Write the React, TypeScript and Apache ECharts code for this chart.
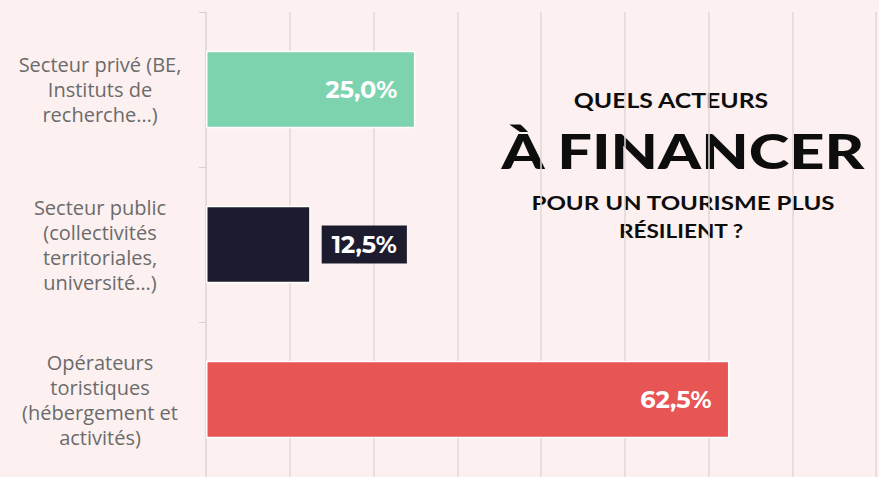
import React, { useEffect, useRef } from "react";
import * as echarts from "echarts";

const categories = [
  "Secteur privé (BE,\nInstituts de\nrecherche…)",
  "Secteur public\n(collectivités\nterritoriales,\nuniversité…)",
  "Opérateurs\ntoristiques\n(hébergement et\nactivités)",
];
const values = [25.0, 12.5, 62.5];
const barColors = ["#7dd3ae", "#1c1c2e", "#e85555"];
const labelInside = [true, false, true];
const titleLines = ["QUELS ACTEURS", "À FINANCER", "POUR UN TOURISME PLUS", "RÉSILIENT ?"];

const fmt = (v: number) => v.toFixed(1).replace(".", ",") + "%";

export default function App() {
  const ref = useRef<HTMLDivElement>(null);
  useEffect(() => {
    if (!ref.current) return;
    const chart = echarts.init(ref.current, undefined, { renderer: "svg" });
    const data = values.map((v, i) => ({
      value: v,
      itemStyle: { color: barColors[i] },
      label: labelInside[i]
        ? {
            position: "insideRight",
            distance: 18,
            color: "#ffffff",
            backgroundColor: "transparent",
            padding: 0,
          }
        : {
            position: "right",
            distance: 11,
            color: "#ffffff",
            backgroundColor: "#1c1c2e",
            padding: [8, 10, 6, 10],
          },
    }));
    const titleText = (
      text: string,
      x: number,
      y: number,
      font: string,
      sx: number
    ) => ({
      type: "text",
      x,
      y,
      scaleX: sx,
      style: {
        text,
        fill: "#0d0d0d",
        font,
        textAlign: "center",
        textVerticalAlign: "middle",
      },
    });
    chart.setOption({
      animation: false,
      backgroundColor: "#fcf0f0",
      grid: { left: 206, right: 3, top: 12, bottom: -5, containLabel: false },
      xAxis: {
        type: "value",
        min: 0,
        max: 80,
        interval: 10,
        axisLabel: { show: false },
        axisLine: { show: false },
        axisTick: { show: false },
        splitLine: { show: true, lineStyle: { color: "#e2d9d9", width: 1.5 } },
      },
      yAxis: {
        type: "category",
        data: categories,
        inverse: true,
        axisLine: { show: true, lineStyle: { color: "#e2d9d9", width: 1.5 } },
        axisTick: { show: true, length: 7, lineStyle: { color: "#d8cfcf" } },
        axisLabel: {
          align: "center",
          margin: 106,
          color: "#6b6b6b",
          fontSize: 20,
          lineHeight: 25,
          fontFamily: "'Open Sans', sans-serif",
        },
      },
      series: [
        {
          type: "bar",
          data,
          barWidth: "50%",
          itemStyle: { borderColor: "#ffffff", borderWidth: 1.5 },
          label: {
            show: true,
            formatter: (p: any) => fmt(p.value),
            fontSize: 24,
            fontWeight: "bold",
            fontFamily: "Montserrat, 'Open Sans', sans-serif",
          },
        },
      ],
      graphic: [
        titleText(titleLines[0], 671, 100, "bold 21px Lato, sans-serif", 1.18),
        titleText(titleLines[1], 683, 151, "900 48px Lato, sans-serif", 1.28),
        titleText(titleLines[2], 683, 203, "bold 19px Lato, sans-serif", 1.27),
        titleText(titleLines[3], 681, 230, "bold 19px Lato, sans-serif", 1.19),
      ],
    });
    return () => chart.dispose();
  }, []);
  return (
    <div
      ref={ref}
      style={{ position: "fixed", left: 0, top: 0, width: 879, height: 477 }}
    />
  );
}
